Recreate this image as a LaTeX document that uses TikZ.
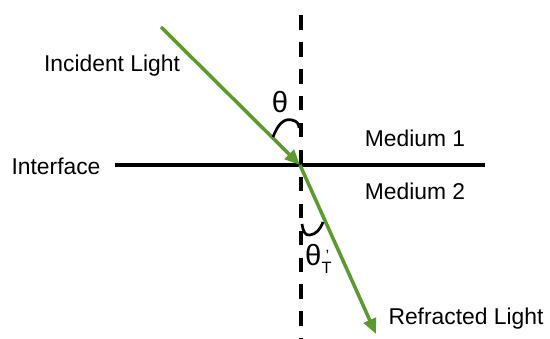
\documentclass[tikz,border=0pt]{standalone}
\usepackage{fontspec}
\setmainfont{Liberation Sans}
\definecolor{raygreen}{HTML}{5A9A2E}
\usetikzlibrary{arrows.meta,positioning}

\begin{document}
\begin{tikzpicture}[x=0.03cm,y=-0.03cm,
    lbl/.style={font=\fontsize{19.5}{23}\selectfont},
    angle lbl/.style={font=\fontsize{25}{28}\selectfont,inner sep=0pt},
    ray/.style={raygreen,line width=3pt,-{Triangle[length=13pt,width=11pt]}},
    normal/.style={line width=3pt,dash pattern=on 12.5pt off 10.5pt},
    angmark/.style={line width=2.3pt}]
  \useasboundingbox (0,0) rectangle (550,339);
  % points
  \coordinate (ntop) at (301,15);
  \coordinate (nbot) at (301,339);
  \coordinate (ileft) at (115,165);
  \coordinate (iright) at (485,165);
  \coordinate (src) at (161,27);
  \coordinate (hit) at (300,165);
  \coordinate (dst) at (376,334);
  % normal and interface
  \draw[normal] (ntop) -- (nbot);
  \draw[line width=3.4pt] (ileft) -- (iright);
  % rays
  \draw[ray] (src) -- (hit);
  \draw[ray] (hit) -- (dst);
  % angle marks
  \draw[angmark] (273,137) .. controls (278,124) and (284,118) .. (292,120)
    .. controls (297,121) and (299,124) .. (299,128);
  \draw[angmark] (302,224) .. controls (303,231) and (305,236) .. (310,235)
    .. controls (316,234) and (320,230) .. (323,222);
  % labels
  \node[lbl] (inc) at (112,66) {Incident Light};
  \node[lbl] (iface) at (56,166) {Interface};
  \node[lbl] (med1) at (415,138) {Medium 1};
  \node[lbl] (med2) at (415,191) {Medium 2};
  \node[lbl] (refr) at (466,319) {Refracted Light};
  \node[angle lbl] (thi) at (280,102) {θ};
  \node[angle lbl,anchor=west] (tht) at (305,259) {θ\raisebox{-0.55ex}{\fontsize{14}{14}\selectfont\makebox[0pt][l]{\raisebox{1.45ex}{\kern0.25em'}}T}};
\end{tikzpicture}
\end{document}
